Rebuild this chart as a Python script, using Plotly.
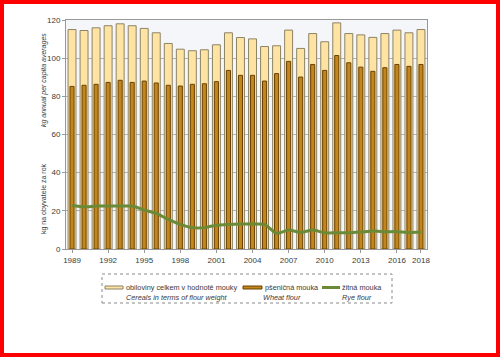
import plotly.graph_objects as go

years = list(range(1989, 2019))
total_cereals = [115.0, 114.5, 115.9, 117.0, 118.0, 117.0, 115.6, 113.3, 107.7, 104.7,
                 103.9, 104.4, 107.0, 113.3, 110.8, 110.1, 106.1, 106.5, 114.7, 105.1,
                 112.9, 108.6, 118.5, 112.9, 112.2, 110.9, 112.9, 114.7, 113.3, 115.0]
wheat_flour = [85.2, 85.8, 86.3, 87.3, 88.4, 87.3, 88.0, 87.0, 85.8, 85.4,
               86.3, 86.6, 87.7, 93.6, 91.0, 91.0, 88.0, 91.9, 98.3, 90.1,
               96.7, 93.6, 101.4, 97.6, 95.3, 93.1, 95.0, 96.7, 95.7, 96.7]
rye_flour = [22.8, 22.1, 22.5, 22.5, 22.5, 22.5, 20.4, 18.7, 15.5, 12.9,
             11.2, 11.2, 12.5, 12.9, 13.1, 13.1, 12.9, 8.2, 9.9, 8.7,
             9.9, 8.5, 8.5, 8.5, 8.9, 9.4, 9.1, 9.1, 8.7, 8.9]
tick_years = [1989, 1992, 1995, 1998, 2001, 2004, 2007, 2010, 2013, 2016, 2018]
y_ticks = [0, 20, 40, 60, 80, 100, 120]

names_cz = ["obiloviny celkem v hodnotě mouky", "pšeničná mouka", "žitná mouka"]
names_en = ["Cereals in terms of flour weight", "Wheat flour", "Rye flour"]

FONT = "Liberation Sans, Arial, sans-serif"
TXT = "#3A3A3A"
C_TOTAL, C_TOTAL_LINE = "#FFE3A3", "#8C8466"
C_WHEAT, C_WHEAT_LINE = "#C3851C", "#6A4200"
C_RYE = "#6B8A35"

fig = go.Figure()
fig.add_trace(go.Bar(x=years, y=total_cereals, width=0.66, name=names_cz[0],
                     marker=dict(color=C_TOTAL, line=dict(color=C_TOTAL_LINE, width=1))))
fig.add_trace(go.Bar(x=years, y=wheat_flour, width=0.34, name=names_cz[1],
                     marker=dict(color=C_WHEAT, line=dict(color=C_WHEAT_LINE, width=1))))
fig.add_trace(go.Scatter(x=years, y=rye_flour, mode="lines", name=names_cz[2],
                         line=dict(color=C_RYE, width=3, shape="spline", smoothing=0.6)))

ml, mr, mt, mb = 66, 73, 20, 108
W, H = 500, 357
pw, ph = W - ml - mr, H - mt - mb

def px_x(p):
    return (p - ml) / pw

def px_y(p):
    return (H - mb - p) / ph

def prect(x0, y0, x1, y1, **kw):
    return dict(type="rect", xref="paper", yref="paper",
                x0=px_x(x0), x1=px_x(x1), y0=px_y(y1), y1=px_y(y0), **kw)

def ptext(text, x, y, xanchor="left", size=7.3, italic=False):
    return dict(text=f"<i>{text}</i>" if italic else text, xref="paper", yref="paper",
                x=px_x(x), y=px_y(y), xanchor=xanchor, yanchor="middle",
                showarrow=False, font=dict(family=FONT, size=size, color=TXT))

# custom legend (two text rows: Czech + English)
row1, row2 = 287.5, 297.5
shapes = [
    prect(102, 274, 392, 303, line=dict(color="#8A8A8A", width=1, dash="dot"),
          fillcolor="white", layer="above"),
    prect(105, 286, 123, 289, line=dict(color=C_TOTAL_LINE, width=1),
          fillcolor=C_TOTAL, layer="above"),
    prect(243, 286, 262, 289, line=dict(color=C_WHEAT_LINE, width=1),
          fillcolor=C_WHEAT, layer="above"),
    dict(type="line", xref="paper", yref="paper", x0=px_x(322), x1=px_x(340),
         y0=px_y(row1), y1=px_y(row1), line=dict(color=C_RYE, width=3), layer="above"),
    prect(2, 2, 498, 355, line=dict(color="#FF0000", width=4), layer="above"),
]
annotations = [
    ptext(names_cz[0], 124, row1),
    ptext(names_cz[1], 262.5, row1),
    ptext(names_cz[2], 340, row1),
    ptext(names_en[0], 177, row2, xanchor="center", italic=True),
    ptext(names_en[1], 282, row2, xanchor="center", italic=True),
    ptext(names_en[2], 357, row2, xanchor="center", italic=True),
    dict(text="<i>kg annual per capita averages</i>", xref="paper", yref="paper",
         x=px_x(44), y=px_y(80), xanchor="center", yanchor="middle",
         textangle=-90, showarrow=False, font=dict(family=FONT, size=7, color=TXT)),
    dict(text="kg na obyvatele za rok", xref="paper", yref="paper",
         x=px_x(44), y=px_y(199), xanchor="center", yanchor="middle",
         textangle=-90, showarrow=False, font=dict(family=FONT, size=7, color=TXT)),
]

fig.update_layout(
    width=W, height=H,
    margin=dict(l=ml, r=mr, t=mt, b=mb, autoexpand=False),
    barmode="overlay",
    paper_bgcolor="white",
    plot_bgcolor="#F5F6FA",
    font=dict(family=FONT, size=8, color=TXT),
    showlegend=False,
    xaxis=dict(
        range=[1988.5, 2018.5], tickmode="array", tickvals=tick_years,
        ticktext=[str(t) for t in tick_years], showgrid=False,
        showline=True, linecolor="#999999", linewidth=1, mirror=True,
        ticks="outside", ticklen=3, tickcolor="#999999",
        tickfont=dict(family=FONT, size=8, color=TXT),
    ),
    yaxis=dict(
        range=[0, 120], tickmode="array", tickvals=y_ticks,
        showgrid=True, gridcolor="#B4B4B4", gridwidth=1,
        showline=True, linecolor="#999999", linewidth=1, mirror=True,
        ticks="outside", ticklen=3, tickcolor="#999999",
        tickfont=dict(family=FONT, size=8, color=TXT),
        zeroline=False,
    ),
    annotations=annotations,
    shapes=shapes,
)

fig.write_html("out.html", config={"displayModeBar": False},
               post_script="document.body.style.margin='0';document.body.style.overflow='hidden';")
